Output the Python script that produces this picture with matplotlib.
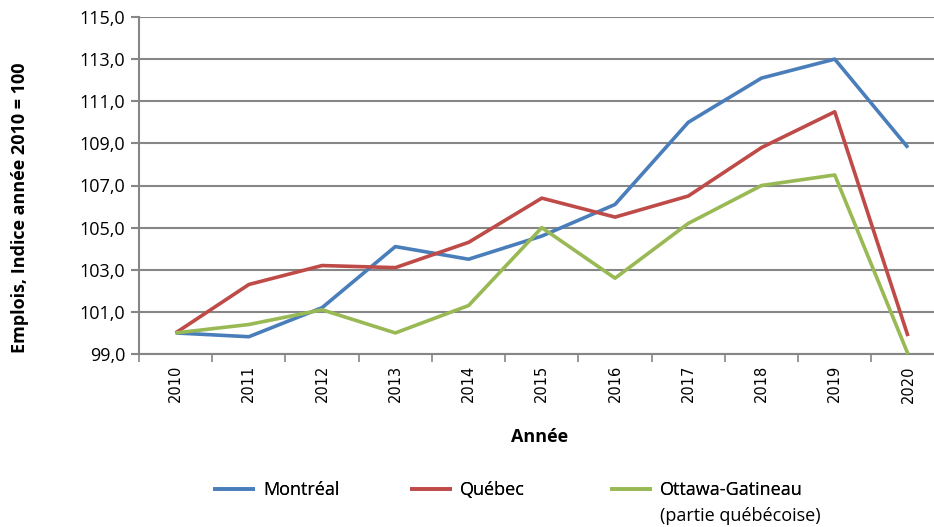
import matplotlib
matplotlib.use("Agg")
import matplotlib.pyplot as plt
from matplotlib.ticker import FixedLocator, FuncFormatter
import numpy as np

years = ["2010", "2011", "2012", "2013", "2014", "2015", "2016", "2017", "2018", "2019", "2020"]
montreal = [100.0, 99.82, 101.2, 104.1, 103.5, 104.6, 106.1, 110.0, 112.1, 113.0, 108.8]
quebec = [100.0, 102.3, 103.2, 103.1, 104.3, 106.4, 105.5, 106.5, 108.8, 110.5, 99.85]
ottawa = [100.0, 100.4, 101.1, 100.0, 101.3, 105.0, 102.6, 105.2, 107.0, 107.5, 99.0]
series_labels = ["Montréal", "Québec", "Ottawa-Gatineau\n(partie québécoise)"]
y_ticks = [99, 101, 103, 105, 107, 109, 111, 113, 115]

colors = ["#4A7EBB", "#BE4B48", "#98B954"]
grid_c = "#868686"
narrow = ["Open Sans", "DejaVu Sans"]

fig = plt.figure(figsize=(9.34, 5.27), dpi=100)
L, B, T = 139/934, 1-354/527, 1-17/527
W = (944.6-139)/934
ax = fig.add_axes([L, B, W, T-B])

x = np.arange(len(years))
lines = []
for vals, c in zip([montreal, quebec, ottawa], colors):
    ln, = ax.plot(x, vals, color=c, lw=2.6, solid_capstyle='butt', clip_on=False, zorder=3)
    lines.append(ln)

ax.set_xlim(-0.5, len(years)-0.5)
ax.set_ylim(99, 115)
ax.yaxis.set_major_locator(FixedLocator(y_ticks))
ax.yaxis.set_major_formatter(FuncFormatter(lambda v, p: f"{v:.1f}".replace(".", ",")))
ax.grid(axis='y', color=grid_c, lw=1.5, zorder=0)
for s in ['top', 'right']:
    ax.spines[s].set_visible(False)
ax.spines['left'].set_color(grid_c)
ax.spines['left'].set_linewidth(1.5)
ax.spines['bottom'].set_color(grid_c)
ax.spines['bottom'].set_linewidth(1.5)

ax.set_xticks(x)
ax.set_xticklabels(years, rotation=90, fontsize=10.5, family="DejaVu Sans")
ax.tick_params(axis='x', length=0, pad=8)
ax.set_xticks(np.arange(-0.5, len(years)), minor=True)
ax.tick_params(axis='x', which='minor', length=6, color=grid_c, width=1.2)
ax.tick_params(axis='y', length=6, color=grid_c, width=1.5, pad=4, labelsize=13)
for lab in ax.get_yticklabels():
    lab.set_family(["Open Sans", "DejaVu Sans"])

fig.text(20/934, 1-208/527, "Emplois, Indice année 2010 = 100", rotation=90,
         ha='center', va='center', fontsize=13, fontweight='bold', family=narrow)
fig.text(540/934, 1-437/527, "Année", ha='center', va='center', fontsize=13,
         fontweight='bold', family=narrow)

fs = 13
px_per_em = fs * 100 / 72
leg_x = [213, 410, 610]
for ln, lab, lx in zip(lines, series_labels, leg_x):
    parts = lab.split("\n")
    leg = fig.legend([ln], [parts[0]], loc='center left',
                     bbox_to_anchor=(lx/934, 1-490/527), frameon=False,
                     borderpad=0, borderaxespad=0,
                     handlelength=42/px_per_em, handletextpad=8/px_per_em,
                     prop={'family': narrow, 'size': fs})
    fig.add_artist(leg)
    if len(parts) > 1:
        fig.text((lx + 50)/934, 1-516/527, parts[1], ha='left', va='center',
                 fontsize=fs, family=narrow)

fig.savefig("out.png", dpi=100)
